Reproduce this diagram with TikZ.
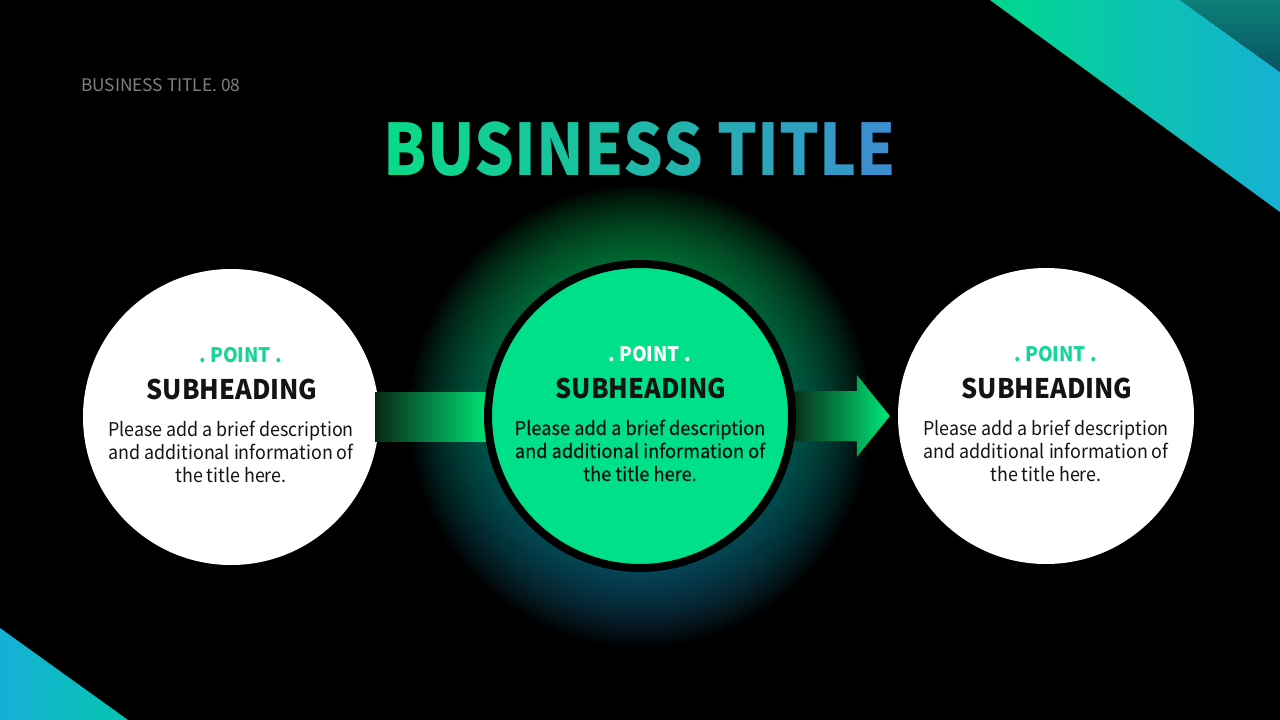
\documentclass[tikz,border=0pt]{standalone}
\usepackage{fontspec}
\setmainfont{Noto Sans CJK KR}[FakeStretch=0.94]
\newfontfamily\hdrfont{Noto Sans CJK KR}
\newfontfamily\ttlfont{Noto Sans CJK KR}[FakeStretch=0.88]
\newfontfamily\medfont{Noto Sans CJK KR}[FakeStretch=0.96, FakeBold=0.5]
\usetikzlibrary{calc}
\definecolor{bandL}{RGB}{0,216,140}
\definecolor{bandR}{RGB}{22,176,212}
\definecolor{darkL}{RGB}{14,128,122}
\definecolor{darkR}{RGB}{8,84,98}
\definecolor{triL}{RGB}{22,176,214}
\definecolor{triR}{RGB}{6,196,176}
\definecolor{titleL}{RGB}{10,218,136}
\definecolor{titleR}{RGB}{62,138,212}
\definecolor{smallgray}{RGB}{128,128,128}
\definecolor{glowtop}{RGB}{0,200,90}
\definecolor{glowbot}{RGB}{30,120,170}
\definecolor{midgreen}{RGB}{0,224,136}
\definecolor{arrowgreen}{RGB}{0,232,120}
\definecolor{arrowdark}{RGB}{8,40,22}
\definecolor{pointteal}{RGB}{20,214,150}
\definecolor{bodyblack}{RGB}{20,20,20}
\newcommand\titlefont{\ttlfont\fontsize{71}{80}\selectfont\bfseries}
\newcommand\tlet[2]{\textcolor{titleR!#1!titleL}{#2}}
\tikzset{
  pcircle/.style={circle, fill=white, minimum size=296pt, inner sep=0pt},
  pointsty/.style={font=\fontsize{20}{24}\selectfont\bfseries, anchor=base, inner sep=0pt},
  substy/.style={font=\fontsize{27}{32}\selectfont\bfseries, anchor=base, inner sep=0pt},
  bodysty/.style={font=\fontsize{19}{23}\selectfont, anchor=base, inner sep=0pt},
}
\newcommand\pointtexts[4]{%
  \node[pointsty, text=#2] (#1-pt) at ($(#1.center)+(9.5,-55)$) {.~POINT~.};
  \node[substy, text=#3] (#1-sub) at ($(#1.center)+(1,-18)$) {SUBHEADING};
  \node[bodysty, text=#3] (#1-b1) at ($(#1.center)+(0,19)$) {#4Please add a brief description};
  \node[bodysty, text=#3] (#1-b2) at ($(#1.center)+(0,42)$) {#4and additional information of};
  \node[bodysty, text=#3] (#1-b3) at ($(#1.center)+(0,65)$) {#4the title here.};
}
\begin{document}
\begin{tikzpicture}[x=1pt,y=-1pt]
\useasboundingbox (0,0) rectangle (1280,720);
\fill[black] (0,0) rectangle (1280,720);
% corner bands
\shade[left color=bandL, right color=bandR] (990,0) -- (1180,0) -- (1280,72) -- (1280,212) -- cycle;
\shade[top color=darkL, bottom color=darkR] (1180,0) -- (1280,0) -- (1280,72) -- cycle;
\shade[left color=triL, right color=triR] (0,628) -- (0,720) -- (128,720) -- cycle;
% small header
\node[font=\hdrfont\fontsize{17.3}{20}\selectfont, text=smallgray, anchor=base west, inner sep=0pt] (hdr) at (81,91) {BUSINESS TITLE. 08};
% title
\node[font=\titlefont, inner sep=0pt, anchor=base] (title) at (640,175) {\tlet{2}{B}\tlet{9}{U}\tlet{16}{S}\tlet{21}{I}\tlet{27}{N}\tlet{35}{E}\tlet{42}{S}\tlet{49}{S} \tlet{60}{T}\tlet{66}{I}\tlet{72}{T}\tlet{81}{L}\tlet{94}{E}};
% circle positions
\coordinate (p1) at (231,417);
\coordinate (p2) at (640,416);
\coordinate (p3) at (1046,416);
% glow
\foreach \r in {158,162,...,230} {
  \shade[top color=glowtop, bottom color=glowbot, fill opacity=0.045] (p2) circle (\r);
}
% circles
\node[pcircle] (c1) at (p1) {};
\node[pcircle] (c3) at (p3) {};
% arrows
\shade[left color=arrowdark, right color=arrowgreen] ($(c1.east)+(-4,-25)$) rectangle ($(p2)+(-150,25)$);
\coordinate (tip) at ($(c3.west)+(-8,0)$);
\shade[left color=arrowdark, right color=arrowgreen] ($(p2)+(150,-25)$) -- ($(tip)+(-33,-25)$) -- ($(tip)+(-33,-41)$) -- (tip) -- ($(tip)+(-33,41)$) -- ($(tip)+(-33,25)$) -- ($(p2)+(150,25)$) -- cycle;
\node[circle, fill=midgreen, draw=black, line width=8pt, minimum size=304pt, inner sep=0pt] (c2) at (p2) {};
% texts
\pointtexts{c1}{pointteal}{bodyblack}{}
\pointtexts{c2}{white}{bodyblack}{\medfont}
\pointtexts{c3}{pointteal}{bodyblack}{}
\end{tikzpicture}
\end{document}
